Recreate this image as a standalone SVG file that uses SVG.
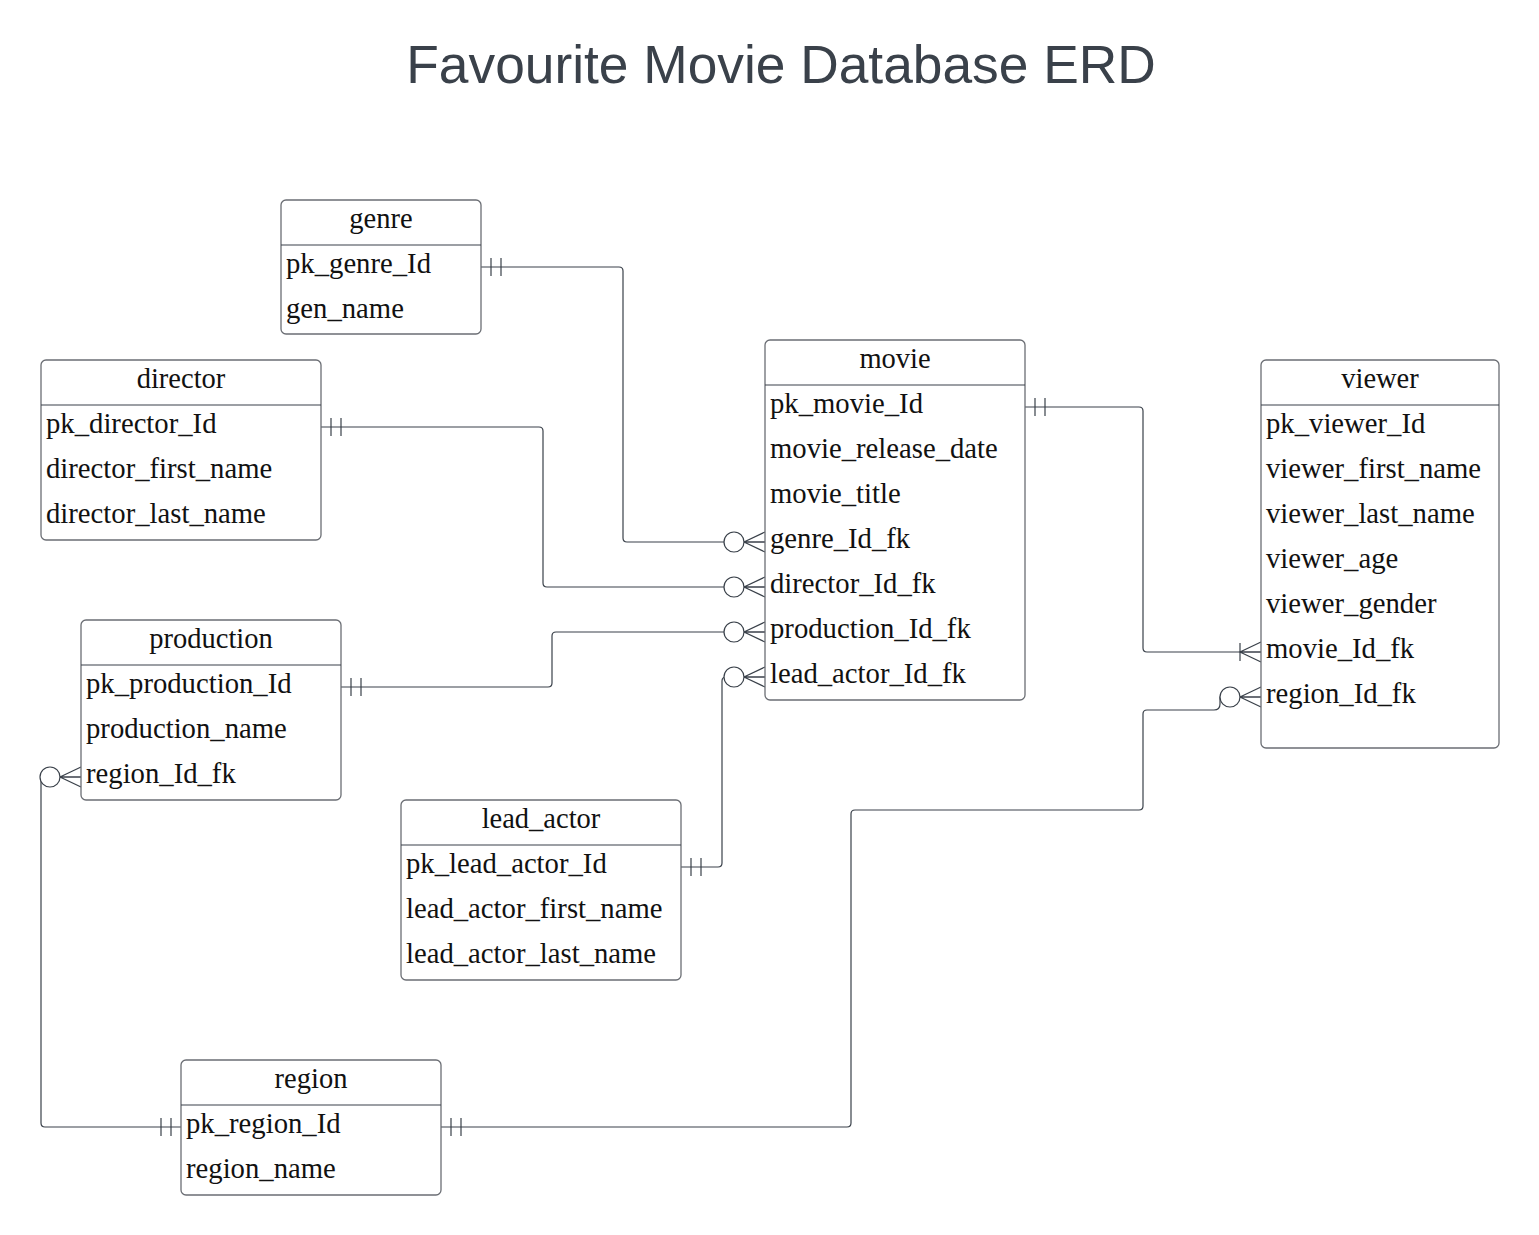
<svg xmlns="http://www.w3.org/2000/svg" width="1539" height="1235" viewBox="0 0 1539 1235">
<style>
.box{fill:#fff;stroke:#6b6e74;stroke-width:1.3}
.div{stroke:#3a414a;stroke-width:1.1}
.h{font-family:"Liberation Serif",serif;font-size:28.5px;fill:#111;text-anchor:middle}
.r{font-family:"Liberation Serif",serif;font-size:28.7px;fill:#111}
.c{fill:none;stroke:#3a414a;stroke-width:1.2}
.title{font-family:"Liberation Sans",sans-serif;font-size:53.3px;fill:#3a414a;text-anchor:middle}
</style>
<defs>
<marker id="one" markerUnits="userSpaceOnUse" viewBox="-24 -11 25 22" refX="0" refY="0" markerWidth="25" markerHeight="22" orient="auto-start-reverse">
<path d="M-10,-9V9M-20,-9V9" stroke="#3a414a" stroke-width="1.2" fill="none"/>
</marker>
<marker id="zmany" markerUnits="userSpaceOnUse" viewBox="-44 -12 45 24" refX="0" refY="0" markerWidth="45" markerHeight="24" orient="auto-start-reverse">
<path d="M0,-10L-21,0L0,10M0,0H-21" stroke="#3a414a" stroke-width="1.2" fill="none"/>
<circle cx="-31" cy="0" r="10" fill="#fff" stroke="#3a414a" stroke-width="1.2"/>
</marker>
<marker id="omany" markerUnits="userSpaceOnUse" viewBox="-30 -12 31 24" refX="0" refY="0" markerWidth="31" markerHeight="24" orient="auto-start-reverse">
<path d="M0,-10L-21,0L0,10M0,0H-21M-21,-9V9" stroke="#3a414a" stroke-width="1.2" fill="none"/>
</marker>
</defs>
<rect width="1539" height="1235" fill="#fff"/>
<text class="title" x="781" y="83">Favourite Movie Database ERD</text>

<g id="connectors">
<path class="c" d="M481,267H619Q623,267 623,271V538Q623,542 627,542H765" marker-start="url(#one)" marker-end="url(#zmany)"/>
<path class="c" d="M321,427H539Q543,427 543,431V583Q543,587 547,587H765" marker-start="url(#one)" marker-end="url(#zmany)"/>
<path class="c" d="M341,687H548Q552,687 552,683V636Q552,632 556,632H765" marker-start="url(#one)" marker-end="url(#zmany)"/>
<path class="c" d="M681,867H718Q722,867 722,863V681Q722,677 726,677H765" marker-start="url(#one)" marker-end="url(#zmany)"/>
<path class="c" d="M1025,407H1139Q1143,407 1143,411V648Q1143,652 1147,652H1261" marker-start="url(#one)" marker-end="url(#omany)"/>
<path class="c" d="M441,1127H847Q851,1127 851,1123V814Q851,810 855,810H1139Q1143,810 1143,806V714Q1143,710 1147,710H1214Q1220,710 1220,704V697H1261" marker-start="url(#one)" marker-end="url(#zmany)"/>
<path class="c" d="M181,1127H45Q41,1127 41,1123V781Q41,777 45,777H81" marker-start="url(#one)" marker-end="url(#zmany)"/>
</g>

<g id="genre">
<rect class="box" x="281" y="200" width="200" height="134" rx="5"/>
<line class="div" x1="281" y1="245" x2="481" y2="245"/>
<text class="h" x="381" y="228">genre</text>
<text class="r" x="286" y="273">pk_genre_Id</text>
<text class="r" x="286" y="318">gen_name</text>
</g>

<g id="director">
<rect class="box" x="41" y="360" width="280" height="180" rx="5"/>
<line class="div" x1="41" y1="405" x2="321" y2="405"/>
<text class="h" x="181" y="388">director</text>
<text class="r" x="46" y="433">pk_director_Id</text>
<text class="r" x="46" y="478">director_first_name</text>
<text class="r" x="46" y="523">director_last_name</text>
</g>

<g id="movie">
<rect class="box" x="765" y="340" width="260" height="360" rx="5"/>
<line class="div" x1="765" y1="385" x2="1025" y2="385"/>
<text class="h" x="895" y="368">movie</text>
<text class="r" x="770" y="413">pk_movie_Id</text>
<text class="r" x="770" y="458">movie_release_date</text>
<text class="r" x="770" y="503">movie_title</text>
<text class="r" x="770" y="548">genre_Id_fk</text>
<text class="r" x="770" y="593">director_Id_fk</text>
<text class="r" x="770" y="638">production_Id_fk</text>
<text class="r" x="770" y="683">lead_actor_Id_fk</text>
</g>

<g id="viewer">
<rect class="box" x="1261" y="360" width="238" height="388" rx="5"/>
<line class="div" x1="1261" y1="405" x2="1499" y2="405"/>
<text class="h" x="1380" y="388">viewer</text>
<text class="r" x="1266" y="433">pk_viewer_Id</text>
<text class="r" x="1266" y="478">viewer_first_name</text>
<text class="r" x="1266" y="523">viewer_last_name</text>
<text class="r" x="1266" y="568">viewer_age</text>
<text class="r" x="1266" y="613">viewer_gender</text>
<text class="r" x="1266" y="658">movie_Id_fk</text>
<text class="r" x="1266" y="703">region_Id_fk</text>
</g>

<g id="production">
<rect class="box" x="81" y="620" width="260" height="180" rx="5"/>
<line class="div" x1="81" y1="665" x2="341" y2="665"/>
<text class="h" x="211" y="648">production</text>
<text class="r" x="86" y="693">pk_production_Id</text>
<text class="r" x="86" y="738">production_name</text>
<text class="r" x="86" y="783">region_Id_fk</text>
</g>

<g id="lead_actor">
<rect class="box" x="401" y="800" width="280" height="180" rx="5"/>
<line class="div" x1="401" y1="845" x2="681" y2="845"/>
<text class="h" x="541" y="828">lead_actor</text>
<text class="r" x="406" y="873">pk_lead_actor_Id</text>
<text class="r" x="406" y="918">lead_actor_first_name</text>
<text class="r" x="406" y="963">lead_actor_last_name</text>
</g>

<g id="region">
<rect class="box" x="181" y="1060" width="260" height="135" rx="5"/>
<line class="div" x1="181" y1="1105" x2="441" y2="1105"/>
<text class="h" x="311" y="1088">region</text>
<text class="r" x="186" y="1133">pk_region_Id</text>
<text class="r" x="186" y="1178">region_name</text>
</g>
</svg>
